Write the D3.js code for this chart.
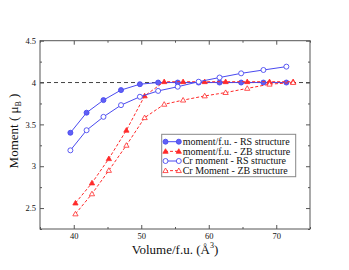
<!DOCTYPE html>
<html><head><meta charset="utf-8">
<script src="https://cdn.jsdelivr.net/npm/d3@7"></script>
<style>body{margin:0;background:#fff}svg{display:block}</style>
</head><body>
<script>
const volRS = [39.5, 41.9, 44.4, 47.0, 49.8, 52.5, 55.4, 58.5, 61.6, 64.8, 68.1, 71.5];
const momRS = [3.40, 3.64, 3.79, 3.91, 3.98, 4.00, 4.00, 4.00, 4.00, 4.00, 4.00, 4.00];
const crRS  = [3.19, 3.43, 3.59, 3.73, 3.83, 3.90, 3.95, 4.01, 4.06, 4.11, 4.15, 4.19];
const volZB = [40.25, 42.7, 45.2, 47.8, 50.5, 53.4, 56.2, 59.4, 62.5, 65.7, 69.0, 72.5];
const momZB = [2.56, 2.80, 3.09, 3.43, 3.84, 4.01, 4.01, 4.01, 4.01, 4.01, 4.01, 4.01];
const crZB  = [2.43, 2.67, 2.95, 3.25, 3.58, 3.74, 3.79, 3.84, 3.88, 3.93, 3.98, 4.00];
const xMajor = [40, 50, 60, 70];
const yMajor = [2.5, 3, 3.5, 4, 4.5];
const legendLabels = ["moment/f.u. - RS structure", "moment/f.u. - ZB structure", "Cr moment - RS structure", "Cr Moment - ZB structure"];

const W = 349, H = 270;
const L = 40, R = 310, T = 40.7, B = 229;
const x = d3.scaleLinear().domain([35, 75]).range([L, R]);
const y = d3.scaleLinear().domain([2.25, 4.5]).range([B, T]);
const svg = d3.select("body").append("svg").attr("width", W).attr("height", H);
const font = "'Liberation Serif', 'Times New Roman', serif";
const blue = "#4a4af0", blueFill = "#6060f5", red = "#ff2a2a";

// dashed reference line
svg.append("line").attr("x1", L).attr("x2", R).attr("y1", y(4)).attr("y2", y(4))
  .attr("stroke", "#444").attr("stroke-width", 1).attr("stroke-dasharray", "4,3");

// axes with inward ticks
const xMinor = d3.range(35, 76, 5).filter(v => !xMajor.includes(v));
const yMinor = d3.range(2.25, 4.51, 0.25).filter(v => !yMajor.some(m => Math.abs(m - v) < 1e-6));
const axisColor = "#555";
function addAxis(axis, tr) {
  const g = svg.append("g").attr("transform", tr).call(axis);
  g.select(".domain").remove();
  g.selectAll("line").attr("stroke", axisColor);
  g.selectAll("text").attr("font-family", font).attr("font-size", 8.5).attr("fill", "#111");
  return g;
}
addAxis(d3.axisBottom(x).tickValues(xMajor).tickSizeInner(-4).tickSizeOuter(0).tickPadding(3.5).tickFormat(d3.format("d")), `translate(0,${B})`);
addAxis(d3.axisBottom(x).tickValues(xMinor).tickSizeInner(-2).tickSizeOuter(0).tickFormat(""), `translate(0,${B})`);
addAxis(d3.axisTop(x).tickValues(xMajor).tickSizeInner(-4).tickSizeOuter(0).tickFormat(""), `translate(0,${T})`);
addAxis(d3.axisTop(x).tickValues(xMinor).tickSizeInner(-2).tickSizeOuter(0).tickFormat(""), `translate(0,${T})`);
addAxis(d3.axisLeft(y).tickValues(yMajor).tickSizeInner(-4).tickSizeOuter(0).tickPadding(4).tickFormat(d => d3.format("")(d)), `translate(${L},0)`);
addAxis(d3.axisLeft(y).tickValues(yMinor).tickSizeInner(-2).tickSizeOuter(0).tickFormat(""), `translate(${L},0)`);
addAxis(d3.axisRight(y).tickValues(yMajor).tickSizeInner(-4).tickSizeOuter(0).tickFormat(""), `translate(${R},0)`);
addAxis(d3.axisRight(y).tickValues(yMinor).tickSizeInner(-2).tickSizeOuter(0).tickFormat(""), `translate(${R},0)`);
svg.append("rect").attr("x", L).attr("y", T).attr("width", R - L).attr("height", B - T)
  .attr("fill", "none").attr("stroke", axisColor).attr("stroke-width", 1);

const series = [
  {xs: volRS, ys: momRS, color: blue, fill: blueFill, shape: "circle", dash: null},
  {xs: volZB, ys: momZB, color: red, fill: red, shape: "tri", dash: "3,2"},
  {xs: volRS, ys: crRS, color: blue, fill: "#fff", shape: "circle", dash: null},
  {xs: volZB, ys: crZB, color: red, fill: "#fff", shape: "tri", dash: "3,2"},
];
const line = d3.line().x(d => x(d[0])).y(d => y(d[1]));
const triPath = d3.symbol().type(d3.symbolTriangle).size(12)();
function marker(g, s, cx, cy) {
  if (s.shape === "circle") {
    g.append("circle").attr("cx", cx).attr("cy", cy).attr("r", 2.5)
      .attr("fill", s.fill).attr("stroke", s.color).attr("stroke-width", 0.9);
  } else {
    g.append("path").attr("d", triPath).attr("transform", `translate(${cx},${cy + 0.4})`)
      .attr("fill", s.fill).attr("stroke", s.color).attr("stroke-width", 0.8);
  }
}
series.forEach(s => {
  const pts = s.xs.map((v, i) => [v, s.ys[i]]);
  svg.append("path").attr("d", line(pts)).attr("fill", "none").attr("stroke", s.color)
    .attr("stroke-width", 1).attr("stroke-dasharray", s.dash);
  const g = svg.append("g");
  pts.forEach(p => marker(g, s, x(p[0]), y(p[1])));
});

// legend
const lg = svg.append("g");
lg.append("rect").attr("x", 161.7).attr("y", 134.3).attr("width", 134).attr("height", 42.4)
  .attr("fill", "#fff").attr("stroke", "#888").attr("stroke-width", 1);
series.forEach((s, i) => {
  const yy = 141.7 + i * 9.65;
  lg.append("line").attr("x1", 165).attr("x2", 179.3).attr("y1", yy).attr("y2", yy)
    .attr("stroke", s.color).attr("stroke-width", 1).attr("stroke-dasharray", s.dash);
  marker(lg, s, 165.5, yy);
  marker(lg, s, 178.8, yy);
  lg.append("text").attr("x", 182.7).attr("y", yy + 3.3).attr("font-family", font)
    .attr("font-size", 10).attr("fill", "#111").text(legendLabels[i]);
});

// axis titles
const xt = svg.append("text").attr("x", (L + R) / 2).attr("y", 254).attr("text-anchor", "middle")
  .attr("font-family", font).attr("font-size", 13).attr("fill", "#111");
xt.append("tspan").text("Volume/f.u. (Å");
xt.append("tspan").attr("font-size", 8).attr("dy", -6).text("3");
xt.append("tspan").attr("dy", 6).text(")");

const yt = svg.append("text").attr("transform", `translate(17.5,131) rotate(-90)`)
  .attr("text-anchor", "middle").attr("font-family", font).attr("font-size", 13).attr("fill", "#111");
yt.append("tspan").text("Moment ( μ");
yt.append("tspan").attr("font-size", 8).attr("dy", 3).text("B");
yt.append("tspan").attr("dy", -3).text(" )");
</script>
</body></html>
